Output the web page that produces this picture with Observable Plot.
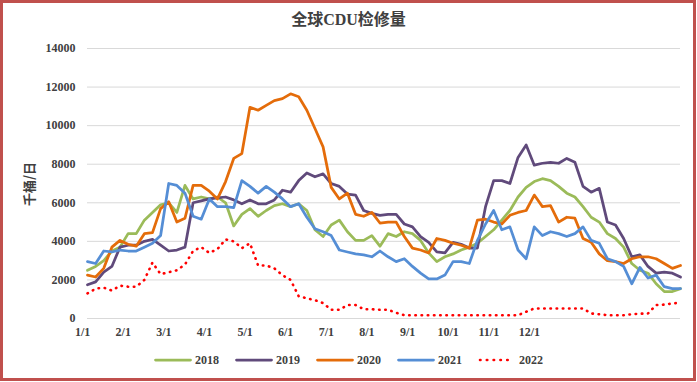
<!DOCTYPE html>
<html><head><meta charset="utf-8">
<script src="https://cdn.jsdelivr.net/npm/d3@7"></script>
<script src="https://cdn.jsdelivr.net/npm/@observablehq/plot@0.6"></script>
<style>
html,body{margin:0;padding:0;background:#fff;}
#wrap{position:relative;width:697px;height:382px;overflow:hidden;background:#fff;}
#frame{position:absolute;left:0;top:0;width:696px;height:381px;box-sizing:border-box;border:3px solid #c0504d;pointer-events:none;}
#title{position:absolute;left:0;width:697px;top:12px;line-height:16px;text-align:center;font-weight:bold;font-size:16px;font-family:"Liberation Serif","Noto Sans CJK SC";color:#404040;}
#ylab{position:absolute;left:28px;top:184px;transform:translate(-50%,-50%) rotate(-90deg);font-size:13px;line-height:13px;font-weight:bold;font-family:"Noto Sans CJK SC";white-space:nowrap;color:#404040;}
#legend{position:absolute;top:352px;left:0;width:697px;height:16px;display:flex;justify-content:center;align-items:center;font-weight:bold;font-size:12px;font-family:"Liberation Serif";color:#404040;}
.item{display:flex;align-items:center;margin:0 8px;}
.item svg{margin-right:3px;}
#chart{position:absolute;left:0;top:0;}
</style></head>
<body><div id="wrap"><div id="chart"></div><div id="title">全球CDU检修量</div><div id="ylab">千桶/日</div><div id="legend"></div><div id="frame"></div></div>
<script>
const years = ["2018","2019","2020","2021","2022"];
const colors = ["#9bbb59","#604a7b","#e46c0a","#558ed5","#ff0000"];
const xLabels = ["1/1","2/1","3/1","4/1","5/1","6/1","7/1","8/1","9/1","10/1","11/1","12/1"];
const yTicks = [0,2000,4000,6000,8000,10000,12000,14000];
// sample every 5 days from day 0 to day 365
const days = d3.range(0, 366, 5);
const v2018 = [2500,2700,3000,3500,3700,4400,4400,5100,5500,5900,6000,5500,6900,6200,6300,6200,6300,6000,4800,
5400,5700,5300,5600,5850,5950,5800,5950,5600,4600,4250,4850,5100,4500,4050,4050,4300,3750,
4400,4250,4500,4400,4050,3400,2950,3200,3350,3550,3700,3900,4250,4600,5100,5600,6300,6800,
7100,7250,7150,6850,6500,6300,5800,5250,5000,4400,4150,3700,2850,2500,2350,1800,1400,1400,1550];
const v2019 = [1750,1900,2400,2700,3700,3800,3800,4000,4100,3800,3500,3550,3700,6000,6100,6200,6250,6300,6150,
5950,6150,5950,5950,6150,6650,6550,7150,7550,7350,7500,7000,6850,6450,6400,5600,5450,5350,
5400,5400,4900,4750,4250,3950,3450,3400,3950,3850,3650,3650,5800,7150,7150,7000,8350,9000,
7950,8050,8100,8050,8300,8100,6850,6550,6750,5000,4850,4150,3200,3300,2700,2350,2400,2350,2150];
const v2020 = [2250,2150,2600,3700,4050,3850,3750,4400,4450,5700,6050,5000,5200,6900,6900,6600,6200,7100,8300,
8550,10950,10800,11050,11300,11400,11650,11500,10800,9850,8900,6800,6200,6500,5400,5300,5500,4950,
5000,5000,4250,3650,3550,3400,4150,4050,3900,3800,3650,5100,5150,5000,4900,5350,5500,5600,
6400,5800,5850,5000,5250,5200,4150,3950,3350,3000,2950,2850,3100,3200,3200,3100,2850,2600,2750];
const v2021 = [2950,2850,3500,3450,3550,3500,3500,3700,3900,4300,7000,6900,6500,5300,5150,6200,5800,5800,5750,
7150,6850,6500,6850,6550,6200,5800,5950,5250,4650,4500,4300,3550,3450,3350,3300,3200,3500,
3200,2950,3100,2700,2350,2050,2050,2250,2950,2950,2850,4050,4900,5600,4600,4750,3550,3100,
4750,4300,4500,4400,4250,4400,4750,4050,3900,3100,2950,2700,1800,2650,2100,2250,1650,1550,1550];
const v2022 = [1300,1550,1600,1450,1700,1650,1650,2000,2900,2300,2400,2500,2800,3500,3700,3400,3600,4100,4000,
3650,3900,2750,2750,2600,2250,2000,1150,1050,950,800,450,450,700,700,480,480,450,
450,300,170,170,170,170,170,170,170,170,170,170,170,170,170,170,170,350,
520,520,520,520,520,520,520,260,220,170,170,170,220,250,260,700,720,780,820];
const valuesByYear = [v2018, v2019, v2020, v2021, v2022];

const rows = years.flatMap((y, k) => valuesByYear[k].map((v, i) => ({year: y, day: days[i], value: v})));

const serif = "Liberation Serif";
const lineMarks = years.map((y, k) => Plot.line(rows.filter(r => r.year === y), {
  x: "day", y: "value", stroke: colors[k],
  strokeWidth: k === 4 ? 2.6 : 2.75,
  strokeLinejoin: "round", strokeLinecap: "round",
  strokeDasharray: k === 4 ? "0.5 5.7" : null
}));

const chart = Plot.plot({
  width: 697, height: 345,
  marginLeft: 87, marginRight: 17, marginTop: 48, marginBottom: 27,
  style: {fontFamily: serif, fontSize: "12px", fontWeight: "bold", color: "#404040", background: "transparent"},
  x: {domain: [0, 365], axis: null},
  y: {domain: [0, 14000], axis: null},
  marks: [
    Plot.ruleY(yTicks, {stroke: "#d9d9d9", strokeWidth: 1}),
    Plot.axisY(yTicks, {tickSize: 0, tickPadding: 12, tickFormat: d => String(d), label: null}),
    Plot.text(xLabels, {x: (d, i) => -3 + 25 * i, y: () => 0, text: d => d, dy: 9, lineAnchor: "top", fill: "#404040"}),
    ...lineMarks
  ]
});
document.getElementById("chart").appendChild(chart);

const legend = document.getElementById("legend");
years.forEach((y, k) => {
  const item = document.createElement("div");
  item.className = "item";
  const dotted = k === 4;
  item.innerHTML = `<svg width="38" height="6"><line x1="${dotted ? 2 : 1.5}" y1="3" x2="${dotted ? 36 : 36.5}" y2="3" stroke="${colors[k]}" stroke-width="${dotted ? 2.6 : 2.75}" stroke-linecap="round" ${dotted ? 'stroke-dasharray="0.5 6.3"' : ''}/></svg><span>${y}</span>`;
  legend.appendChild(item);
});
</script></body></html>
